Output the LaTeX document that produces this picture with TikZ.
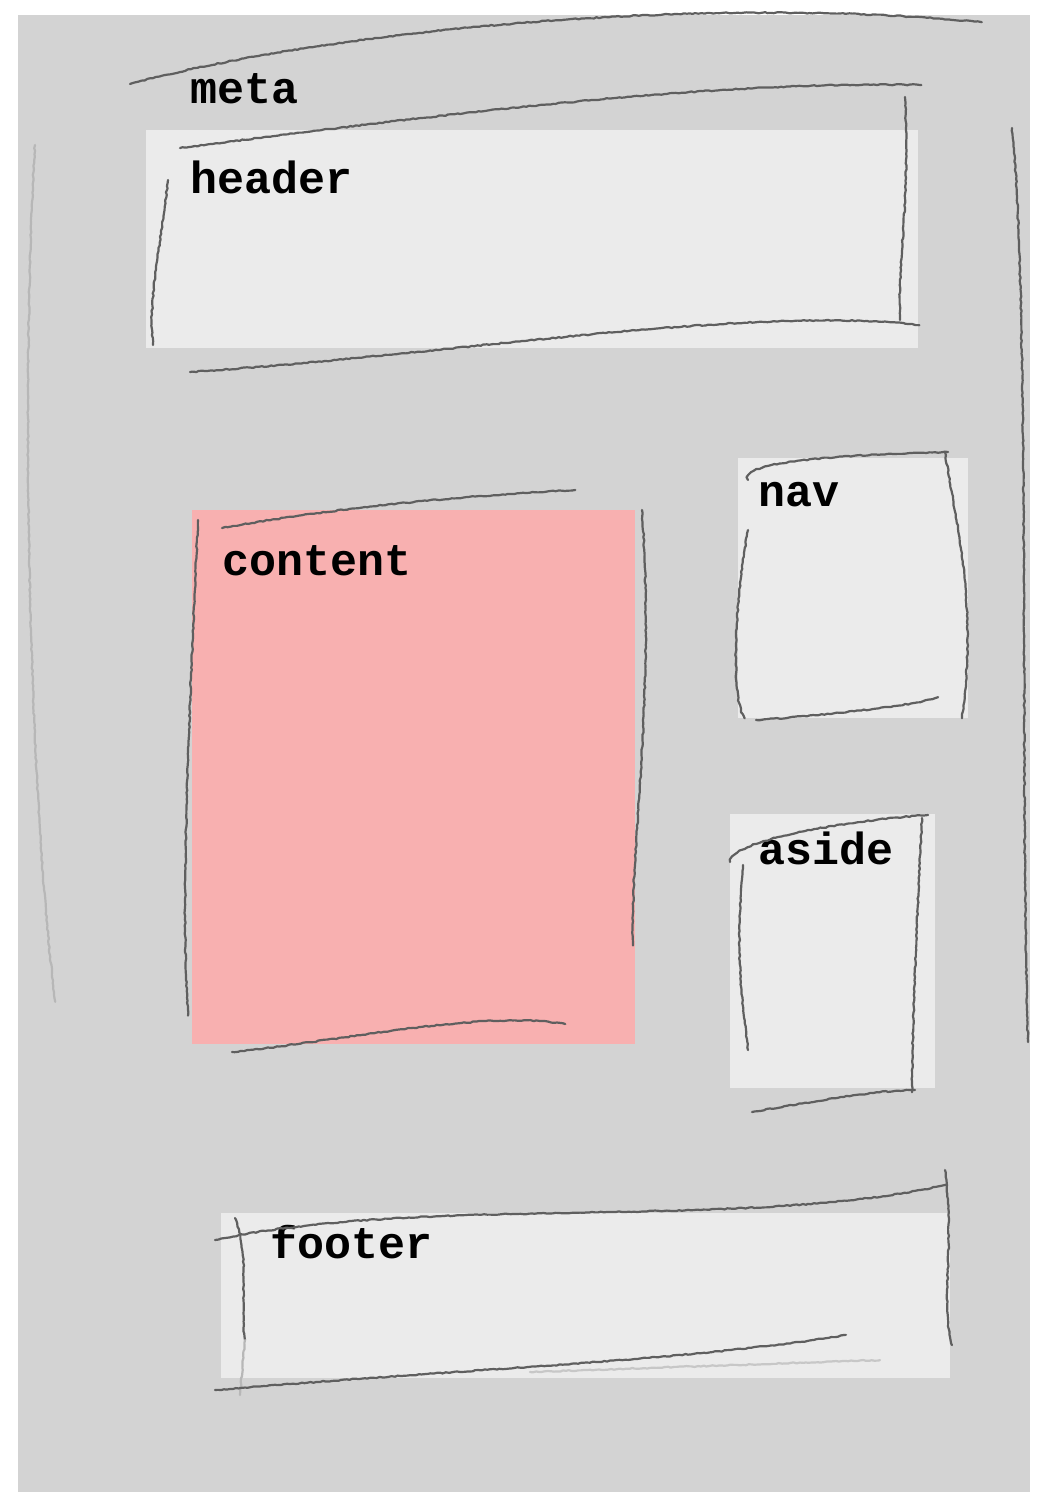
\documentclass[tikz,border=0pt]{standalone}
\usepackage{fontspec}
\setmonofont{Liberation Mono}
\usetikzlibrary{decorations.pathmorphing}

\definecolor{pagegray}{RGB}{211, 211, 211}
\definecolor{boxgray}{RGB}{235, 235, 235}
\definecolor{contentpink}{RGB}{248, 176, 176}
\definecolor{pencil}{RGB}{95, 95, 95}

\tikzset{
    region/.style = {fill=boxgray, draw=none, inner sep=0pt, anchor=north west},
    tag/.style    = {font=\fontsize{45}{50}\selectfont\ttfamily\bfseries, inner sep=0pt, anchor=base west},
    pencil/.style = {draw=pencil, line width=2.2pt, line cap=round, line join=round,
                     decorate, decoration={random steps, segment length=3pt, amplitude=0.6pt}}
}

\begin{document}
\begin{tikzpicture}[x=1pt, y=-1pt]
    \useasboundingbox (0,0) rectangle (1039,1492);
    \fill[white] (0,0) rectangle (1039,1492);

    % page and regions
    \node[region, fill=pagegray, minimum width=1012pt, minimum height=1477pt] (page) at (18,15) {};
    \node[region, minimum width=772pt, minimum height=218pt] (header) at (146,130) {};
    \node[region, fill=contentpink, minimum width=443pt, minimum height=534pt] (content) at (192,510) {};
    \node[region, minimum width=230pt, minimum height=260pt] (nav) at (738,458) {};
    \node[region, minimum width=205pt, minimum height=274pt] (aside) at (730,814) {};
    \node[region, minimum width=729pt, minimum height=165pt] (footer) at (221,1213) {};

    % labels
    \node[tag] (metatag)    at (190,103)  {meta};
    \node[tag] (headertag)  at (190,193)  {header};
    \node[tag] (contenttag) at (222,575)  {content};
    \node[tag] (navtag)     at (758,506)  {nav};
    \node[tag] (asidetag)   at (758,864)  {aside};
    \node[tag] (footertag)  at (270,1258) {footer};

    % pencil strokes: page
    \draw[pencil] (130,84) .. controls (330,30) and (700,-5) .. (980,22);
    \draw[pencil, draw=pencil!45] (35,145) .. controls (20,400) and (30,800) .. (55,1000);
    \draw[pencil] (1012,128) .. controls (1030,300) and (1020,800) .. (1028,1040);

    % pencil strokes: header
    \draw[pencil] (180,148) .. controls (400,120) and (700,80) .. (920,85);
    \draw[pencil] (905,97) .. controls (910,200) and (898,260) .. (900,320);
    \draw[pencil] (190,372) .. controls (450,355) and (750,305) .. (918,325);
    \draw[pencil] (168,180) .. controls (160,250) and (148,300) .. (153,345);

    % pencil strokes: content
    \draw[pencil] (222,528) .. controls (350,505) and (480,495) .. (575,490);
    \draw[pencil] (642,510) .. controls (655,700) and (630,850) .. (633,945);
    \draw[pencil] (232,1052) .. controls (350,1040) and (480,1010) .. (565,1024);
    \draw[pencil] (198,520) .. controls (190,700) and (180,900) .. (188,1015);

    % pencil strokes: nav
    \draw[pencil] (748,480) .. controls (740,460) and (850,455) .. (948,452);
    \draw[pencil] (945,452) .. controls (955,520) and (978,600) .. (962,718);
    \draw[pencil] (756,720) .. controls (830,715) and (920,705) .. (938,697);
    \draw[pencil] (748,530) .. controls (735,600) and (730,700) .. (745,718);

    % pencil strokes: aside
    \draw[pencil] (730,862) .. controls (730,840) and (850,820) .. (928,815);
    \draw[pencil] (922,818) .. controls (915,950) and (912,1050) .. (912,1092);
    \draw[pencil] (752,1112) .. controls (820,1100) and (880,1090) .. (915,1090);
    \draw[pencil] (743,865) .. controls (735,950) and (742,1000) .. (748,1050);

    % pencil strokes: footer
    \draw[pencil] (215,1240) .. controls (420,1195) and (750,1230) .. (945,1185);
    \draw[pencil] (945,1170) .. controls (955,1250) and (940,1300) .. (952,1345);
    \draw[pencil] (235,1218) .. controls (250,1260) and (240,1300) .. (245,1340);
    \draw[pencil, draw=pencil!45] (245,1340) -- (240,1395);
    \draw[pencil] (215,1390) .. controls (450,1370) and (700,1360) .. (845,1335);
    \draw[pencil, draw=pencil!35] (530,1372) -- (880,1360);
\end{tikzpicture}
\end{document}
